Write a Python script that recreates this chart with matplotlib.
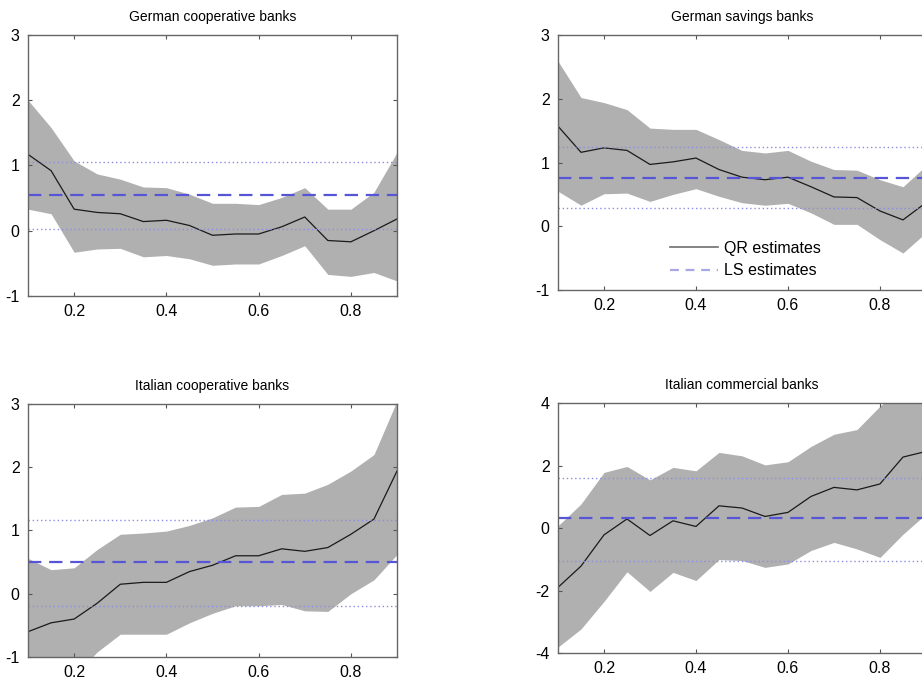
import numpy as np
import matplotlib as mpl
import matplotlib.pyplot as plt

mpl.rcParams['font.family'] = ['Liberation Sans', 'DejaVu Sans']
mpl.rcParams['font.size'] = 11.5
mpl.rcParams['axes.unicode_minus'] = False

# quantiles 0.10 ... 0.90
tau = [0.10, 0.15, 0.20, 0.25, 0.30, 0.35, 0.40, 0.45, 0.50,
       0.55, 0.60, 0.65, 0.70, 0.75, 0.80, 0.85, 0.90]

# German cooperative banks
gc_qr = [1.17, 0.92, 0.33, 0.28, 0.26, 0.14, 0.16, 0.08, -0.07,
         -0.05, -0.05, 0.06, 0.21, -0.15, -0.17, 0.00, 0.18]
gc_hi = [2.00, 1.58, 1.07, 0.87, 0.79, 0.67, 0.66, 0.56, 0.42,
         0.42, 0.40, 0.51, 0.66, 0.33, 0.33, 0.59, 1.20]
gc_lo = [0.33, 0.26, -0.33, -0.28, -0.27, -0.40, -0.38, -0.43, -0.53,
         -0.51, -0.51, -0.38, -0.23, -0.67, -0.70, -0.64, -0.77]
gc_ls = [0.54, 0.02, 1.05]

# German savings banks
gs_qr = [1.57, 1.16, 1.23, 1.19, 0.97, 1.01, 1.07, 0.89, 0.77,
         0.73, 0.77, 0.62, 0.46, 0.45, 0.24, 0.10, 0.37]
gs_hi = [2.59, 2.02, 1.94, 1.83, 1.54, 1.52, 1.52, 1.36, 1.19,
         1.15, 1.19, 1.02, 0.89, 0.88, 0.73, 0.62, 0.95]
gs_lo = [0.55, 0.33, 0.51, 0.52, 0.39, 0.50, 0.59, 0.47, 0.37,
         0.33, 0.36, 0.21, 0.03, 0.03, -0.21, -0.42, -0.10]
gs_ls = [0.76, 0.29, 1.24]

# Italian cooperative banks
ic_qr = [-0.60, -0.46, -0.40, -0.15, 0.15, 0.18, 0.18, 0.35, 0.45,
         0.60, 0.60, 0.71, 0.67, 0.73, 0.94, 1.18, 1.94]
ic_hi = [0.56, 0.38, 0.41, 0.70, 0.94, 0.96, 0.99, 1.08, 1.20,
         1.37, 1.38, 1.57, 1.59, 1.73, 1.94, 2.20, 3.05]
ic_lo = [-1.70, -1.50, -1.30, -0.92, -0.64, -0.64, -0.64, -0.46, -0.31,
         -0.19, -0.19, -0.17, -0.27, -0.28, 0.00, 0.22, 0.62]
ic_ls = [0.50, -0.19, 1.17]

# Italian commercial banks
it_qr = [-1.90, -1.22, -0.22, 0.29, -0.24, 0.23, 0.05, 0.71, 0.64,
         0.37, 0.50, 1.01, 1.30, 1.22, 1.41, 2.27, 2.45]
it_hi = [0.07, 0.77, 1.78, 1.97, 1.54, 1.94, 1.83, 2.42, 2.31,
         2.02, 2.12, 2.61, 3.00, 3.15, 3.90, 4.50, 5.00]
it_lo = [-3.81, -3.23, -2.35, -1.40, -2.03, -1.42, -1.68, -1.01, -1.04,
         -1.26, -1.15, -0.72, -0.46, -0.67, -0.94, -0.20, 0.45]
it_ls = [0.31, -1.04, 1.60]

panels = [
    ("German cooperative banks", gc_qr, gc_lo, gc_hi, gc_ls,
     [0.0304, 0.5673, 0.4002, 0.3816], (-1, 3), [-1, 0, 1, 2, 3]),
    ("German savings banks", gs_qr, gs_lo, gs_hi, gs_ls,
     [0.6052, 0.5760, 0.3991, 0.3728], (-1, 3), [-1, 0, 1, 2, 3]),
    ("Italian cooperative banks", ic_qr, ic_lo, ic_hi, ic_ls,
     [0.0304, 0.0395, 0.4002, 0.3699], (-1, 3), [-1, 0, 1, 2, 3]),
    ("Italian commercial banks", it_qr, it_lo, it_hi, it_ls,
     [0.6052, 0.0453, 0.3991, 0.3655], (-4, 4), [-4, -2, 0, 2, 4]),
]

fig = plt.figure(figsize=(9.22, 6.84), dpi=100)

for i, (title, qr, lo, hi, ls, pos, ylim, yticks) in enumerate(panels):
    ax = fig.add_axes(pos)
    ax.fill_between(tau, lo, hi, color="#b0b0b0", lw=0)
    ax.plot(tau, qr, color="#1a1a1a", lw=0.9)
    ax.axhline(ls[0], color="#5555d5", lw=1.6, ls=(0, (6, 3.5)))
    ax.axhline(ls[1], color="#8c8ce0", lw=1.0, ls=(0, (1, 2)))
    ax.axhline(ls[2], color="#8c8ce0", lw=1.0, ls=(0, (1, 2)))
    ax.set_xlim(0.1, 0.9)
    ax.set_ylim(*ylim)
    ax.set_xticks([0.2, 0.4, 0.6, 0.8])
    ax.set_yticks(yticks)
    ax.tick_params(direction="in", top=True, right=True, length=3,
                   color="#555555", pad=6)
    for sp in ax.spines.values():
        sp.set_color("#666666")
        sp.set_linewidth(1.0)
    ax.set_title(title, fontsize=10, pad=10)
    if i == 1:
        # legend handles drawn lighter, as in the exported figure
        h_qr, = ax.plot([], [], color="#707070", lw=1.2)
        h_ls, = ax.plot([], [], color="#a8a8e6", lw=1.6, ls=(0, (4, 3)))
        ax.legend([h_qr, h_ls], ["QR estimates", "LS estimates"],
                  loc="lower center", bbox_to_anchor=(0.51, -0.01),
                  frameon=False, fontsize=11.5, handlelength=3.0,
                  handletextpad=0.4, labelspacing=0.45)

fig.savefig("out.png", dpi=100)
